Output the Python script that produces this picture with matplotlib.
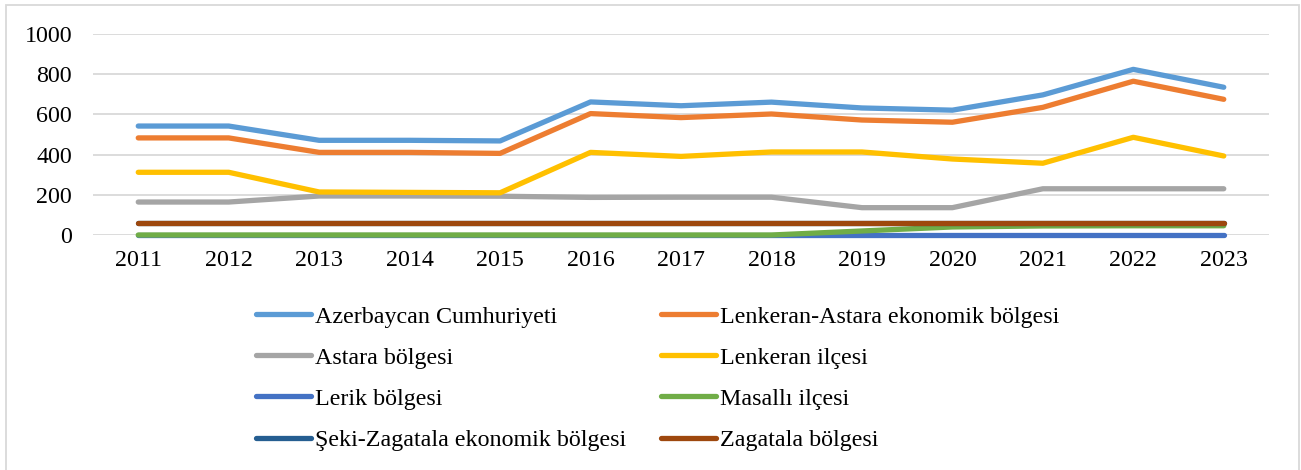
import matplotlib.pyplot as plt
from matplotlib.patches import Rectangle

plt.rcParams["font.family"] = ["Liberation Serif", "DejaVu Serif"]

years = ["2011", "2012", "2013", "2014", "2015", "2016", "2017",
         "2018", "2019", "2020", "2021", "2022", "2023"]

azerbaycan = [542, 542, 471, 471, 468, 662, 643, 661, 632, 621, 697, 824, 735]
lenkeran_astara = [483, 483, 411, 411, 406, 604, 584, 602, 572, 561, 635, 765, 675]
astara = [164, 164, 194, 194, 193, 187, 188, 188, 136, 136, 230, 230, 230]
lenkeran = [312, 312, 214, 212, 210, 411, 391, 413, 413, 378, 357, 486, 393]
lerik = [0, 0, 0, 0, 0, 0, 0, 0, 0, 0, 0, 0, 0]
masalli = [0, 0, 0, 0, 0, 0, 0, 0, 20, 40, 45, 46, 46]
seki_zagatala = [58, 58, 58, 58, 58, 58, 58, 58, 58, 58, 58, 58, 58]
zagatala = [58, 58, 58, 58, 58, 58, 58, 58, 58, 58, 58, 58, 58]

series = [
    ("Azerbaycan Cumhuriyeti", azerbaycan, "#5B9BD5"),
    ("Lenkeran-Astara ekonomik bölgesi", lenkeran_astara, "#ED7D31"),
    ("Astara bölgesi", astara, "#A5A5A5"),
    ("Lenkeran ilçesi", lenkeran, "#FFC000"),
    ("Lerik bölgesi", lerik, "#4472C4"),
    ("Masallı ilçesi", masalli, "#70AD47"),
    ("Şeki-Zagatala ekonomik bölgesi", seki_zagatala, "#255E91"),
    ("Zagatala bölgesi", zagatala, "#9E480E"),
]

fig = plt.figure(figsize=(13.01, 4.70), dpi=100)
ax = fig.add_axes([0.0715, 0.5, 0.9039, 0.4277])

x = list(range(len(years)))
handles = []
for name, vals, color in series:
    (ln,) = ax.plot(x, vals, color=color, lw=3.8, label=name, clip_on=False,
                    solid_capstyle="round", solid_joinstyle="round")
    handles.append(ln)

ax.set_xlim(-0.5, len(years) - 0.5)
ax.set_ylim(0, 1000)
ax.set_yticks(range(0, 1001, 200))
ax.set_xticks(x)
ax.set_xticklabels(years)
ax.grid(axis="y", color="#D9D9D9", lw=1.3)
ax.set_axisbelow(True)
for s in ax.spines.values():
    s.set_visible(False)
ax.tick_params(axis="y", length=0, pad=15, labelsize=17.3)
ax.tick_params(axis="x", length=0, pad=11, labelsize=17.3)

# row-wise legend order like Excel
order = [0, 2, 4, 6, 1, 3, 5, 7]
ax.legend([handles[i] for i in order], [series[i][0] for i in order],
          ncol=2, loc="upper left", bbox_to_anchor=(256 / 1301, 1 - 306 / 470),
          bbox_transform=fig.transFigure, frameon=False, fontsize=17.3,
          handlelength=2.3, handletextpad=0.15, columnspacing=1.45,
          labelspacing=0.8, borderaxespad=0, borderpad=0)

fig.patches.append(Rectangle((6 / 1301, -0.1), 1293 / 1301, 1.1 - 5 / 470,
                             transform=fig.transFigure, fill=False,
                             edgecolor="#D9D9D9", lw=1.3))

fig.savefig("out.png", dpi=100)
